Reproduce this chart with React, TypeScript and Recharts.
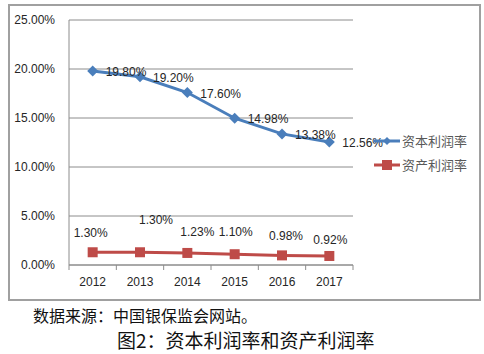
import React from 'react';
import { LineChart, Line, XAxis, YAxis, CartesianGrid, LabelList } from 'recharts';

const years = ['2012', '2013', '2014', '2015', '2016', '2017'];
const capitalReturn = [19.8, 19.2, 17.6, 14.98, 13.38, 12.56];
const assetReturn = [1.3, 1.3, 1.23, 1.1, 0.98, 0.92];
const yTicks = [0, 5, 10, 15, 20, 25];
const seriesNames = ['资本利润率', '资产利润率'];

// label nudges for the red series (dx, dy relative to the point)
const assetLabelNudge: [number, number][] = [[-2, -19], [16, -32], [10, -21], [1, -22], [4, -19], [1, -16]];

const data = years.map((y, i) => ({ year: y, cap: capitalReturn[i], asset: assetReturn[i] }));

const W = 484;
const H = 300;
const M = { top: 20, right: 131, left: 0, bottom: 5 };
const YW = 69;
const PLOT_W = W - M.right - M.left - YW;
const BAND = PLOT_W / years.length;
const BLUE = '#4A7EBB';
const RED = '#BE4B48';
const GRID = '#8C8C8C';
const FONT = '"Liberation Sans", Arial, sans-serif';
const CJK = '"Noto Sans CJK SC", sans-serif';

const Diamond = (props: any) => {
  const { cx, cy, fill } = props;
  if (cx == null || cy == null) return null;
  const r = 5.5;
  return <path d={`M${cx},${cy - r}L${cx + r},${cy}L${cx},${cy + r}L${cx - r},${cy}Z`} fill={fill} />;
};
const Square = (props: any) => {
  const { cx, cy, fill } = props;
  if (cx == null || cy == null) return null;
  const r = 5;
  return <rect x={cx - r} y={cy - r} width={2 * r} height={2 * r} fill={fill} />;
};

const XTick = (props: any) => {
  const { x, y, payload, index } = props;
  const lines = [x - BAND / 2];
  if (index === years.length - 1) lines.push(x + BAND / 2);
  return (
    <g>
      {lines.map((lx, k) => (
        <line key={k} x1={lx} x2={lx} y1={y} y2={y + 5} stroke={GRID} strokeWidth={1} />
      ))}
      <text x={x} y={y + 17} textAnchor="middle" dominantBaseline="central" fontFamily={FONT} fontSize={12} fill="#262626">
        {payload.value}
      </text>
    </g>
  );
};

const CapLabel = (props: any) => {
  const { x, y, value } = props;
  return (
    <text x={x + 13} y={y + 1} textAnchor="start" dominantBaseline="central" fontFamily={FONT} fontSize={12} fill="#262626">
      {value.toFixed(2)}%
    </text>
  );
};
const AssetLabel = (props: any) => {
  const { x, y, value, index } = props;
  const [dx, dy] = assetLabelNudge[index] || [0, -18];
  return (
    <text x={x + dx} y={y + dy} textAnchor="middle" dominantBaseline="central" fontFamily={FONT} fontSize={12} fill="#262626">
      {value.toFixed(2)}%
    </text>
  );
};

const LegendBox = () => {
  const items = [
    { name: seriesNames[0], color: BLUE, shape: 'd' },
    { name: seriesNames[1], color: RED, shape: 's' },
  ];
  return (
    <div style={{ position: 'absolute', left: 373, top: 129 }}>
      {items.map((it, i) => (
        <div key={i} style={{ display: 'flex', alignItems: 'center', height: 24 }}>
          <svg width={28} height={14} style={{ display: 'block' }}>
            <line x1={1} x2={27} y1={7} y2={7} stroke={it.color} strokeWidth={3} />
            {it.shape === 'd' ? (
              <path d="M14,3L18,7L14,11L10,7Z" fill={it.color} />
            ) : (
              <rect x={9} y={2} width={10} height={10} fill={it.color} />
            )}
          </svg>
          <span style={{ fontFamily: CJK, fontSize: 13, color: '#595959', marginLeft: 1, lineHeight: '14px' }}>{it.name}</span>
        </div>
      ))}
    </div>
  );
};

export default function App() {
  return (
    <div style={{ position: 'absolute', left: 0, top: 0, width: 484, height: 354, background: '#fff' }}>
      <div
        style={{
          position: 'absolute',
          left: 8,
          top: 4,
          width: 469,
          height: 293,
          border: '2px solid #A0A0A0',
        }}
      />
      <div style={{ position: 'absolute', left: 0, top: 0 }}>
        <LineChart width={W} height={H} data={data} margin={M}>
          <CartesianGrid vertical={false} stroke={GRID} strokeWidth={1} />
          <XAxis
            dataKey="year"
            height={30}
            axisLine={{ stroke: GRID }}
            tickLine={false}
            tickSize={0}
            tickMargin={0}
            tick={<XTick />}
            interval={0}
            padding={{ left: BAND / 2, right: BAND / 2 }}
          />
          <YAxis
            width={YW}
            domain={[0, 25]}
            ticks={yTicks}
            axisLine={{ stroke: GRID }}
            tickLine={false}
            tickSize={0}
            tickMargin={14}
            tick={{ fontFamily: FONT, fontSize: 12, fill: '#262626' }}
            tickFormatter={(v: number) => v.toFixed(2) + '%'}
          />
          <Line
            name={seriesNames[0]}
            dataKey="cap"
            stroke={BLUE}
            strokeWidth={3}
            dot={<Diamond fill={BLUE} />}
            isAnimationActive={false}
          >
            <LabelList dataKey="cap" content={<CapLabel />} />
          </Line>
          <Line
            name={seriesNames[1]}
            dataKey="asset"
            stroke={RED}
            strokeWidth={3}
            dot={<Square fill={RED} />}
            isAnimationActive={false}
          >
            <LabelList dataKey="asset" content={<AssetLabel />} />
          </Line>
        </LineChart>
      </div>
      <LegendBox />
      <div
        style={{
          position: 'absolute',
          left: 33,
          top: 304,
          fontFamily: CJK,
          fontSize: 16,
          lineHeight: '22px',
          color: '#111',
          whiteSpace: 'nowrap',
        }}
      >
        数据来源：中国银保监会网站。
      </div>
      <div
        style={{
          position: 'absolute',
          left: 117,
          top: 327,
          fontFamily: CJK,
          fontSize: 19,
          lineHeight: '26px',
          color: '#111',
          whiteSpace: 'nowrap',
        }}
      >
        图2：资本利润率和资产利润率
      </div>
    </div>
  );
}
